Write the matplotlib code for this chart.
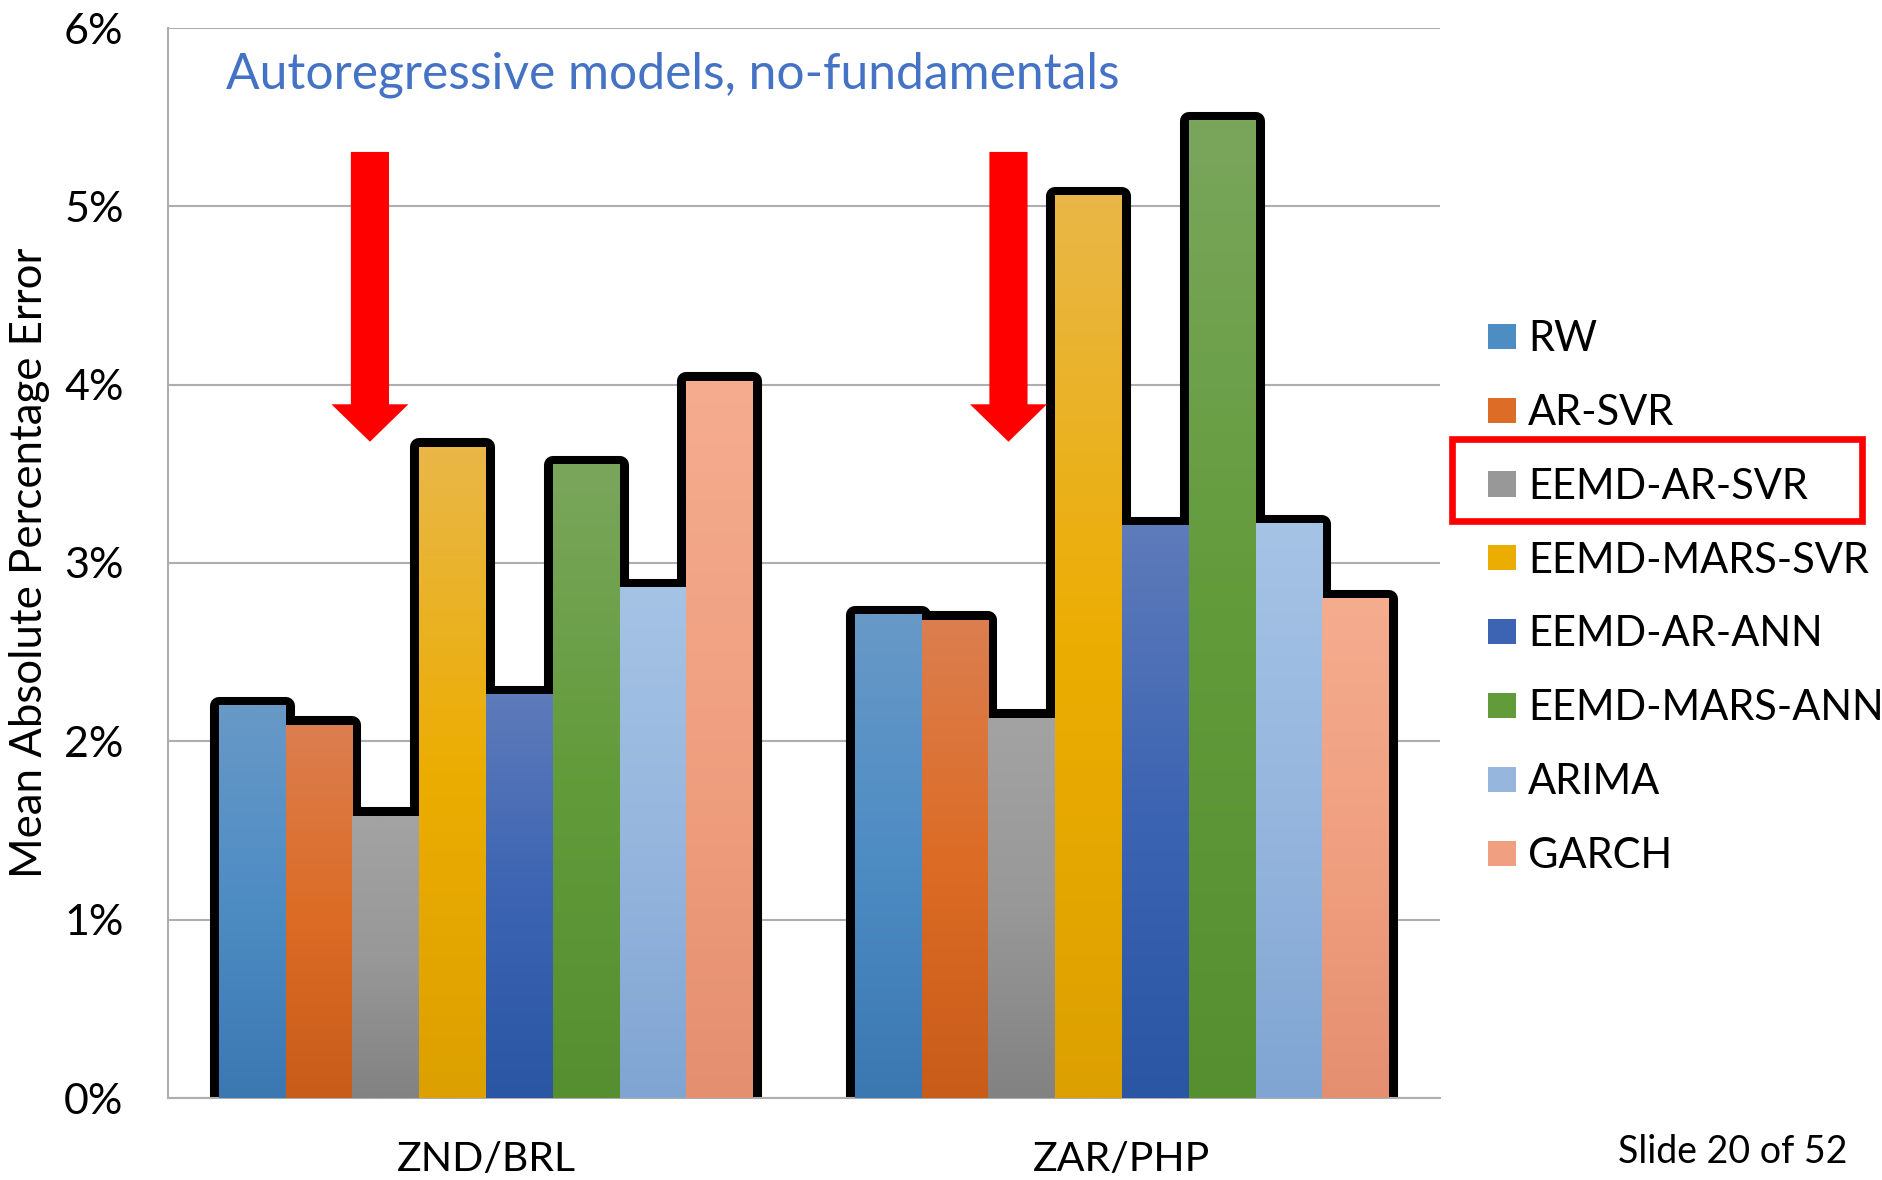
import numpy as np
import matplotlib
matplotlib.use("Agg")
import matplotlib.pyplot as plt
from matplotlib.patches import Patch, Rectangle, FancyArrow

plt.rcParams['font.family'] = ['Lato', 'DejaVu Sans']

# ---------------- data ----------------
groups = ['ZND/BRL', 'ZAR/PHP']
models = ['RW', 'AR-SVR', 'EEMD-AR-SVR', 'EEMD-MARS-SVR',
          'EEMD-AR-ANN', 'EEMD-MARS-ANN', 'ARIMA', 'GARCH']
znd_brl = [2.20, 2.09, 1.58, 3.65, 2.26, 3.55, 2.86, 4.02]
zar_php = [2.71, 2.68, 2.13, 5.06, 3.21, 5.48, 3.22, 2.80]
y_ticks = [0, 1, 2, 3, 4, 5, 6]
y_tick_labels = ['0%', '1%', '2%', '3%', '4%', '5%', '6%']
title_text = 'Autoregressive models, no-fundamentals'
y_label = 'Mean Absolute Percentage Error'
slide_text = 'Slide 20 of 52'
highlight_model = 'EEMD-AR-SVR'
arrow_targets = ['EEMD-AR-SVR', 'EEMD-AR-SVR']

# gradient colours (top, middle, bottom)
grad_colors = [
    [(104, 153, 199), (78, 140, 196), (59, 120, 178)],
    [(219, 126, 80), (220, 108, 38), (200, 92, 25)],
    [(163, 163, 163), (152, 152, 152), (130, 130, 130)],
    [(233, 183, 72), (236, 173, 2), (220, 160, 0)],
    [(94, 123, 186), (60, 100, 178), (42, 86, 164)],
    [(122, 166, 92), (98, 155, 58), (86, 143, 48)],
    [(165, 195, 229), (150, 182, 222), (128, 165, 210)],
    [(245, 172, 143), (240, 160, 128), (228, 143, 112)],
]

W, H = 1882, 1180
fig = plt.figure(figsize=(W / 100, H / 100), dpi=100)

def fx(px):
    return px / W

def fy(py):
    return 1 - py / H

ax_l, ax_r, ax_t, ax_b = 168, 1440, 28, 1098
ax = fig.add_axes([fx(ax_l), fy(ax_b), (ax_r - ax_l) / W, (ax_b - ax_t) / H])

n = len(models)
bw = 0.105
gx = np.arange(len(groups))
series = np.array([znd_brl, zar_php])  # groups x models

def gradient(cols, nsteps=256):
    c = np.array(cols, dtype=float) / 255.0
    t = np.linspace(0, 1, nsteps)
    stops = np.linspace(0, 1, len(c))
    out = np.zeros((nsteps, 1, 3))
    for k in range(3):
        out[:, 0, k] = np.interp(t, stops, c[:, k])
    return out

for i, m in enumerate(models):
    xs = gx + (i - (n - 1) / 2) * bw
    vals = series[:, i]
    # black outline (merges into a skyline)
    bars = ax.bar(xs, vals, width=bw, color='black', edgecolor='black',
                  linewidth=13, zorder=2)
    for b in bars:
        b.set_joinstyle('round')
    # gradient fill
    img = gradient(grad_colors[i])
    for xc, v in zip(xs, vals):
        ax.imshow(img, extent=[xc - bw / 2, xc + bw / 2, 0, v],
                  aspect='auto', zorder=3, interpolation='bilinear')

ax.set_xlim(-0.5, len(groups) - 0.5)
ax.set_ylim(0, 6)
ax.set_yticks(y_ticks)
ax.set_yticklabels(y_tick_labels)
ax.set_xticks(gx)
ax.set_xticklabels(groups)
ax.tick_params(axis='y', length=0, pad=32, labelsize=31)
ax.tick_params(axis='x', length=0, pad=31, labelsize=29.5)
ax.yaxis.grid(True, color='#AEAEAE', linewidth=1.5, zorder=0)
ax.set_axisbelow(True)
for s in ['top', 'right']:
    ax.spines[s].set_visible(False)
ax.spines['left'].set_color('#AEAEAE')
ax.spines['left'].set_linewidth(1.5)
ax.spines['bottom'].set_color('#AEAEAE')
ax.spines['bottom'].set_linewidth(1.5)

ax.set_ylabel(y_label, fontsize=31.5)
ax.yaxis.set_label_coords((50 - ax_l) / (ax_r - ax_l), 0.5)

# title inside plot
ax.text((226 - ax_l) / (ax_r - ax_l), (ax_b - 88) / (ax_b - ax_t), title_text,
        transform=ax.transAxes, fontsize=35.8, color='#4472C4', va='baseline', ha='left')

# red arrows above the EEMD-AR-SVR bars
for g, tgt in enumerate(arrow_targets):
    idx = models.index(tgt)
    xc = gx[g] + (idx - (n - 1) / 2) * bw - 0.025 + 0.004 * g
    top, tip = 5.305, 3.68
    arr = FancyArrow(xc, top, 0, tip - top, width=0.06, head_width=0.121,
                     head_length=0.21, length_includes_head=True,
                     color='#FF0000', linewidth=0, zorder=5)
    ax.add_patch(arr)

# legend
handles = [Patch(facecolor=np.array(c[1]) / 255.0, edgecolor='none') for c in grad_colors]
leg = fig.legend(handles, models, loc='center left',
                 bbox_to_anchor=(fx(1488), fy((335 + 852) / 2 + 4)),
                 bbox_transform=fig.transFigure, frameon=False, fontsize=30,
                 handlelength=0.67, handleheight=0.55, handletextpad=0.29,
                 labelspacing=0.86, borderpad=0, borderaxespad=0)

# red highlight box around EEMD-AR-SVR legend entry
fig.add_artist(Rectangle((fx(1452), fy(521)), (1862 - 1452) / W, (521 - 439) / H,
                         transform=fig.transFigure, fill=False,
                         edgecolor='#FF0000', linewidth=4.8))

fig.text(fx(1848), fy(1152), slide_text, ha='right', va='center', fontsize=27)

fig.savefig('out.png', dpi=100)
